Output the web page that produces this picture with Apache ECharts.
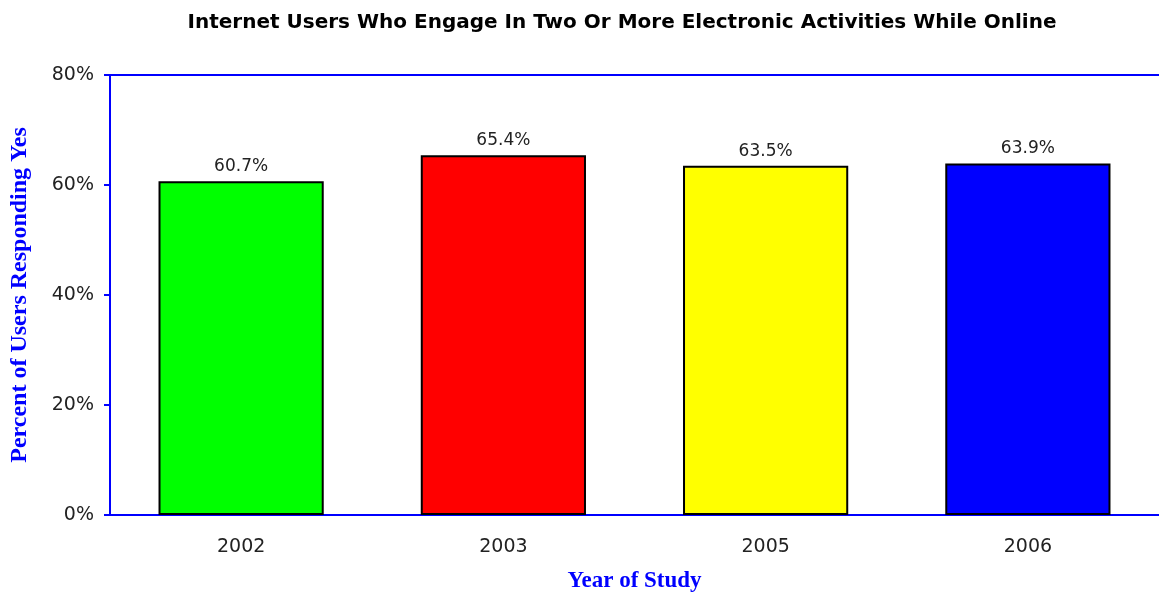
<!DOCTYPE html>
<html>
<head>
<meta charset="utf-8">
<script src="https://cdn.jsdelivr.net/npm/echarts@6/dist/echarts.min.js"></script>
<style>
  html, body { margin: 0; padding: 0; background: #fff; }
  #chart { width: 1159px; height: 594px; }
</style>
</head>
<body>
<div id="chart"></div>
<script>
// 数据
var years = ['2002', '2003', '2005', '2006'];
var percentYes = [60.7, 65.4, 63.5, 63.9];
var barColors = ['#00FF00', '#FF0000', '#FFFF00', '#0000FF'];
var yTicks = [0, 20, 40, 60, 80];

var myChart = echarts.init(document.getElementById('chart'));

var option = {
    animation: false,
    title: {
        text: 'Internet Users Who Engage In Two Or More Electronic Activities While Online',
        left: 617,
        textAlign: 'center',
        top: 8,
        textStyle: {
            fontFamily: 'DejaVu Sans',
            fontSize: 20,
            fontWeight: 'bold',
            color: '#000'
        }
    },
    grid: {
        top: 75,
        left: 110,
        right: 0,
        bottom: 79,
        outerBoundsMode: 'none',
        containLabel: false
    },
    xAxis: [{
        type: 'category',
        data: years,
        name: 'Year of Study',
        nameLocation: 'middle',
        nameGap: 55,
        nameTextStyle: {
            fontFamily: 'Liberation Serif',
            fontSize: 23,
            fontWeight: 'bold',
            color: '#0000FF'
        },
        axisLine: { lineStyle: { color: '#0000FF', width: 2 } },
        axisTick: { show: false },
        axisLabel: {
            fontFamily: 'DejaVu Sans',
            fontSize: 19,
            color: '#222',
            margin: 23
        }
    }, {
        // 顶部边线
        type: 'category',
        data: years,
        position: 'top',
        axisLine: { show: true, lineStyle: { color: '#0000FF', width: 2 } },
        axisTick: { show: false },
        axisLabel: { show: false }
    }],
    yAxis: {
        type: 'value',
        min: yTicks[0],
        max: yTicks[yTicks.length - 1],
        interval: 20,
        name: 'Percent of Users Responding Yes',
        nameLocation: 'middle',
        nameGap: 78,
        nameTextStyle: {
            fontFamily: 'Liberation Serif',
            fontSize: 24,
            fontWeight: 'bold',
            color: '#0000FF'
        },
        axisLine: { show: true, lineStyle: { color: '#0000FF', width: 2 } },
        axisTick: { show: true, length: 6, lineStyle: { color: '#0000FF', width: 2 } },
        splitLine: { show: false },
        axisLabel: {
            fontFamily: 'DejaVu Sans',
            fontSize: 19,
            color: '#222',
            margin: 16,
            formatter: '{value}%'
        }
    },
    series: [{
        type: 'bar',
        xAxisIndex: 0,
        barWidth: '63%',
        data: percentYes.map(function (v, i) {
            return {
                value: v,
                itemStyle: { color: barColors[i] }
            };
        }),
        itemStyle: {
            borderColor: '#000',
            borderWidth: 2
        },
        label: {
            show: true,
            position: 'top',
            distance: 6,
            fontFamily: 'DejaVu Sans',
            fontSize: 17,
            color: '#222',
            formatter: function (p) { return p.value.toFixed(1) + '%'; }
        }
    }]
};

myChart.setOption(option);
</script>
</body>
</html>
